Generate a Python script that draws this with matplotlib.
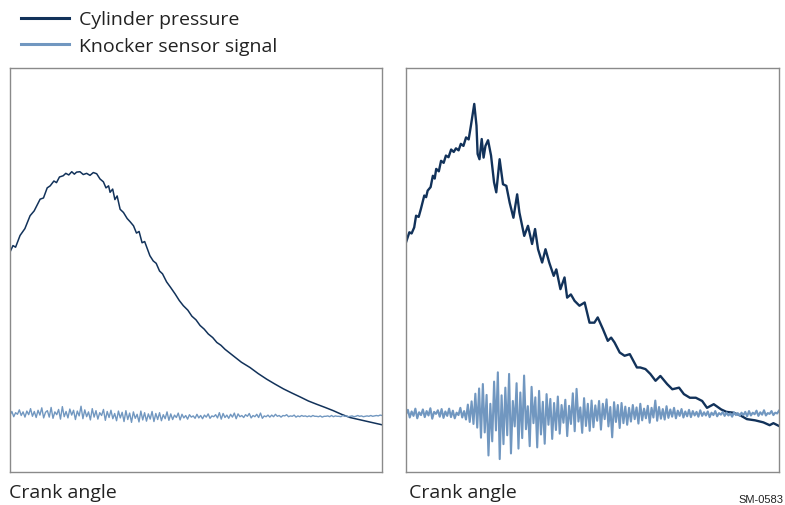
import matplotlib
matplotlib.use("Agg")
import matplotlib.pyplot as plt

plt.rcParams['font.family'] = ['Open Sans', 'DejaVu Sans']

# crank angle (0-100 across each panel), pressure in relative units
p1_x = [0, 0.8, 1.5, 2.7, 4.0, 5.4, 6.5, 8.1, 9.0, 10.0, 10.8, 11.8, 12.5, 13.3, 14.3,
        15.0, 15.8, 16.6, 17.3, 17.9, 18.8, 19.7, 20.6, 21.5, 22.4, 23.3, 24.2, 25.1,
        25.8, 26.5, 26.9, 27.6, 28.2, 28.8, 29.6, 30.5, 31.5, 32.3, 33.2, 34.0, 34.7,
        35.5, 36.2, 37.6, 38.5, 39.3, 40.2, 41.0, 42.1, 43.2, 44.4, 45.5, 46.6, 47.8,
        48.9, 50.0, 51.1, 52.2, 53.3, 54.5, 55.6, 56.7, 57.8, 60.0, 62.2, 64.5, 66.7,
        69.0, 71.2, 73.5, 75.7, 78.0, 80.2, 82.4, 84.7, 86.9, 89.1, 91.4, 95.7, 100]
p1_y = [54.4, 56.0, 55.6, 58.5, 60.2, 63.4, 64.6, 67.5, 67.8, 70.3, 70.8, 72.0, 71.6, 73.0, 73.3,
        73.9, 73.5, 74.3, 73.7, 74.2, 74.3, 73.6, 73.9, 73.4, 74.1, 73.8, 72.5, 71.8,
        70.3, 70.8, 69.2, 70.0, 67.4, 68.3, 65.0, 64.2, 62.7, 61.9, 60.9, 59.1, 59.5,
        56.7, 57.0, 53.5, 52.2, 51.6, 49.7, 49.0, 47.0, 45.6, 44.0, 42.4, 41.1, 40.0,
        38.5, 37.6, 36.2, 35.3, 34.1, 33.2, 32.0, 31.3, 30.3, 28.7, 27.1, 25.8, 24.3,
        22.9, 21.7, 20.5, 19.5, 18.5, 17.5, 16.7, 15.9, 15.1, 14.2, 13.4, 12.5, 11.6]

p2_x = [0, 0.9, 1.5, 2.2, 2.7, 3.4, 4.0, 4.9, 5.4, 5.8, 6.6, 7.2, 7.7, 8.1, 8.8, 9.4,
        10.1, 10.7, 11.4, 12.1, 12.8, 13.4, 14.1, 14.7, 15.4, 16.1, 16.8,
        17.4, 18.3, 18.9, 19.2, 19.7, 20.3, 20.8, 21.3, 22.0, 22.8, 23.6, 24.2, 25.1,
        26.0, 26.9, 27.8, 28.8, 29.8, 30.4, 31.7, 32.7, 33.8, 34.6, 35.4, 36.5, 37.4,
        38.4, 39.6, 40.3, 41.4, 42.5, 43.2, 44.2, 45.2, 46.5, 47.9, 49.2, 50.5, 51.4, 52.8,
        54.1, 55.0, 55.9, 57.3, 58.6, 60.0, 61.9, 62.8, 64.2, 65.5, 66.9, 68.2, 70.0,
        71.4, 73.2, 74.5, 76.1, 77.7, 79.4, 80.7, 82.5, 84.5, 85.9, 87.7, 89.5, 91.4,
        93.6, 95.8, 97.5, 98.5, 100]
p2_y = [56.8, 59.3, 59.0, 60.5, 63.4, 63.1, 65.1, 68.4, 68.0, 69.6, 70.5, 73.3, 72.6, 75.0, 74.4, 77.0,
        76.5, 78.3, 77.9, 79.8, 79.2, 80.1, 79.6, 81.2, 80.7, 82.8, 82.3,
        85.7, 91.1, 85.7, 78.7, 77.4, 82.4, 77.8, 80.7, 82.1, 78.3, 71.7, 69.2, 77.4,
        71.2, 70.8, 66.6, 62.9, 68.7, 64.2, 58.4, 60.9, 56.4, 60.1, 55.1, 51.8, 55.1,
        51.8, 48.5, 50.1, 45.2, 48.1, 43.1, 43.9, 42.3, 41.1, 41.9, 36.9, 36.9, 38.2, 35.3,
        32.4, 33.2, 32.0, 29.5, 28.7, 29.1, 25.8, 25.8, 25.4, 24.2, 22.5, 23.7, 21.7,
        20.4, 20.8, 19.2, 18.3, 18.3, 17.5, 15.8, 16.7, 15.4, 14.8, 14.6, 14.0, 13.0,
        12.7, 12.2, 11.5, 12.0, 11.3]

# knock sensor signal, 200 samples per panel
k1_y = [14.0, 14.9, 13.6, 14.6, 14.2, 15.3, 13.9, 14.8, 13.5, 15.0, 14.1, 15.6, 13.7, 14.9, 13.4, 15.2, 14.0, 15.8, 13.3, 14.7,
        15.1, 13.5, 15.9, 13.2, 14.8, 14.1, 15.4, 13.0, 16.1, 13.6, 14.9, 13.3, 15.5, 14.0, 15.2, 12.9, 15.0, 13.8, 16.2, 13.1,
        15.3, 13.6, 14.8, 12.8, 15.6, 13.5, 15.1, 13.0, 14.6, 13.9, 15.4, 12.7, 14.9, 13.4, 15.2, 13.1, 14.4, 12.6, 15.0, 13.3,
        14.7, 12.4, 15.1, 12.9, 14.5, 12.2, 14.8, 13.2, 14.2, 12.3, 15.0, 12.8, 14.6, 12.5, 14.3, 13.0, 14.9, 12.4, 14.4, 12.9,
        14.6, 12.6, 14.1, 13.1, 14.8, 12.7, 14.3, 12.9, 14.0, 13.4, 14.5, 12.8, 14.2, 13.3, 13.9, 13.0, 14.1, 13.5, 13.8, 13.2,
        14.2, 13.3, 13.9, 13.1, 14.0, 13.5, 14.3, 13.2, 13.8, 13.6, 14.1, 13.3, 14.6, 13.0, 14.4, 13.4, 14.0, 13.2, 14.2, 13.5,
        14.5, 13.1, 14.3, 13.6, 13.9, 13.4, 14.1, 13.7, 14.4, 13.3, 13.9, 13.6, 14.2, 13.4, 14.5, 13.2, 13.8, 13.6, 14.0, 13.5,
        14.0, 13.6, 14.2, 13.7, 13.9, 13.5, 13.9, 13.8, 14.1, 13.6, 13.8, 13.7, 14.0, 13.5, 13.8, 13.6, 13.9, 13.7, 13.8, 13.6,
        13.8, 13.6, 13.9, 13.7, 13.7, 13.6, 13.8, 13.5, 13.7, 13.7, 13.8, 13.6, 13.9, 13.6, 13.8, 13.7, 13.7, 13.6, 13.9, 13.7,
        13.8, 13.6, 13.7, 13.8, 13.6, 13.7, 13.9, 13.7, 13.8, 13.6, 13.7, 13.8, 13.7, 13.9, 13.7, 13.8, 13.9, 13.8, 14.0, 13.9]

k2_y = [14.2, 15.3, 13.4, 14.9, 13.8, 15.6, 13.2, 14.7, 14.0, 15.4, 13.5, 15.0, 13.9, 15.7, 13.1, 14.8, 14.3, 15.2, 13.6, 15.5,
        13.3, 14.9, 13.8, 15.6, 13.5, 15.1, 13.2, 14.6, 14.0, 15.8, 13.4, 15.0, 12.9, 16.6, 12.3, 17.4, 11.8, 19.3, 10.9, 20.6,
        8.4, 21.7, 9.7, 19.0, 4.0, 16.8, 7.5, 22.3, 10.2, 24.6, 3.1, 18.9, 6.8, 20.8, 9.0, 24.2, 4.5, 17.5, 11.2, 21.9,
        5.7, 19.6, 8.3, 23.8, 10.5, 16.2, 6.3, 21.0, 12.0, 18.4, 6.0, 20.0, 9.2, 17.3, 6.9, 19.2, 11.6, 18.0, 8.1, 17.0,
        10.3, 18.6, 9.4, 16.5, 12.1, 17.8, 8.8, 16.3, 11.8, 19.4, 10.0, 20.5, 12.4, 15.9, 9.6, 18.2, 11.3, 16.8, 10.1, 17.6,
        11.0, 16.4, 12.6, 17.5, 10.4, 16.8, 13.0, 17.9, 11.2, 16.0, 8.5, 17.2, 12.3, 16.5, 10.8, 17.0, 12.0, 16.1, 11.6, 15.8,
        12.4, 16.5, 13.0, 15.9, 11.9, 16.8, 12.7, 15.6, 13.2, 16.3, 12.1, 15.8, 13.4, 17.6, 12.6, 16.0, 13.1, 15.5, 12.9, 16.2,
        13.3, 15.4, 13.6, 15.8, 13.2, 15.1, 13.8, 15.5, 13.4, 14.9, 13.7, 15.3, 13.5, 15.0, 13.9, 14.8, 13.6, 15.2, 13.8, 14.7,
        13.9, 14.9, 13.5, 14.6, 14.0, 15.0, 13.7, 14.5, 14.1, 14.8, 13.8, 14.6, 13.9, 14.4, 13.6, 14.7, 14.0, 14.5, 13.8, 14.6,
        14.0, 14.8, 13.7, 15.0, 13.9, 14.6, 14.2, 15.1, 13.8, 14.7, 14.1, 15.2, 13.9, 14.5, 14.3, 15.0, 14.0, 14.6, 14.4, 15.1]

k_x = [i * 100 / 199 for i in range(200)]

dark = '#12325a'
light = '#7197c0'

fig = plt.figure(figsize=(7.85, 5.06), dpi=100)
ax1 = fig.add_axes([10 / 785, 33.4 / 506, 372 / 785, 403.6 / 506])
ax2 = fig.add_axes([406 / 785, 33.4 / 506, 373 / 785, 403.6 / 506])

h_p, = ax1.plot(p1_x, p1_y, color=dark, lw=1.1)
h_k, = ax1.plot(k_x, k1_y, color=light, lw=1.0)
ax2.plot(p2_x, p2_y, color=dark, lw=1.7)
ax2.plot(k_x, k2_y, color=light, lw=1.5)

for ax in (ax1, ax2):
    ax.set_xlim(0, 100)
    ax.set_ylim(0, 100)
    ax.set_xticks([])
    ax.set_yticks([])
    for s in ax.spines.values():
        s.set_color('#8a8a8a')
        s.set_linewidth(1.0)

leg = fig.legend([h_p, h_k], ['Cylinder pressure', 'Knocker sensor signal'],
                 loc='upper left', bbox_to_anchor=(0.004, 1.012), frameon=False,
                 fontsize=14, handlelength=2.5, handletextpad=0.5, labelspacing=0.42)
for line in leg.get_lines():
    line.set_linewidth(2.2)
for t in leg.get_texts():
    t.set_color('#222222')

fig.text(9 / 785, 1 - 493 / 506, 'Crank angle', fontsize=14, va='center', ha='left', color='#222222')
fig.text(409 / 785, 1 - 493 / 506, 'Crank angle', fontsize=14, va='center', ha='left', color='#222222')
fig.text(783 / 785, 1 - 500 / 506, 'SM-0583', fontsize=8, va='center', ha='right',
         family=['Liberation Sans', 'DejaVu Sans'], color='#222222')

fig.savefig('out.png', dpi=100)
